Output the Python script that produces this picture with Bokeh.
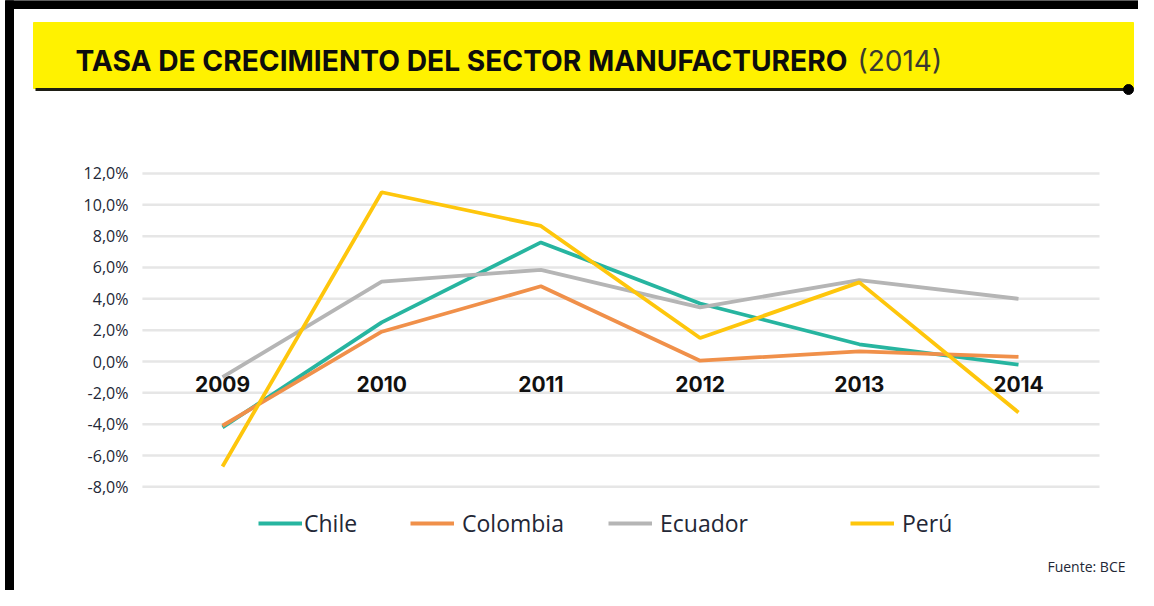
from bokeh.plotting import figure
from bokeh.models import (Range1d, FixedTicker, CustomJSTickFormatter, Legend,
                          LegendItem, LinearAxis)
from bokeh.core.properties import value
from bokeh.embed import file_html
from bokeh.resources import INLINE

# ---------------- data ----------------
years = [2009, 2010, 2011, 2012, 2013, 2014]
year_labels = ["2009", "2010", "2011", "2012", "2013", "2014"]
chile = [-4.2, 2.5, 7.6, 3.7, 1.1, -0.2]
colombia = [-4.1, 1.9, 4.8, 0.05, 0.65, 0.3]
ecuador = [-1.0, 5.1, 5.85, 3.45, 5.2, 4.0]
peru = [-6.7, 10.8, 8.65, 1.5, 5.05, -3.25]
y_ticks = [-8, -6, -4, -2, 0, 2, 4, 6, 8, 10, 12]
series_names = ["Chile", "Colombia", "Ecuador", "Perú"]
title_main = "TASA DE CRECIMIENTO DEL SECTOR MANUFACTURERO"
title_year = "(2014)"
source_note = "Fuente: BCE"

colors = ["#27b5a0", "#f0904a", "#b5b5b5", "#fec60c"]
TXT = "#232736"
FONT = "Open Sans"
W, H = 1138, 590

# plot area: 2009 -> px 222, 2014 -> px 1018 ; 0% -> px 361, 15.67 px per 1%
PX_YEAR = (1018 - 222) / 5.0
PX_PCT = 15.67
x0 = 2009 - 222 / PX_YEAR
y_top = 361 / PX_PCT
p = figure(width=W, height=H, output_backend="svg", toolbar_location=None,
           x_range=Range1d(x0, x0 + W / PX_YEAR),
           y_range=Range1d(y_top - H / PX_PCT, y_top),
           x_axis_location=None, y_axis_location=None,
           min_border=0, outline_line_color=None)
p.extra_x_ranges = {"px": Range1d(0, W)}
p.extra_y_ranges = {"px": Range1d(H, 0)}
for g in p.grid:
    g.visible = False

grid_lo, grid_hi = 2008.497, 2014.509

# frame decorations (pixel coordinates)
px = dict(x_range_name="px", y_range_name="px")
p.quad(left=[5], right=[13], top=[0], bottom=[H], color="black", **px)
p.quad(left=[5], right=[W], top=[0], bottom=[8], color="black", **px)
p.quad(left=[33], right=[1133], top=[22], bottom=[88], color="#fff200", **px)
p.segment(x0=[35], y0=[89], x1=[1128], y1=[89], line_width=3,
          line_color="#1e1e14", **px)
p.scatter(x=[1128], y=[89], size=10, color="black", **px)
p.text(x=[75], y=[60], text=[title_main], text_font=value("Inter"),
       text_font_style="bold", text_font_size="28.2px", text_baseline="middle",
       text_color="#0d0d0d", **px)
p.text(x=[857], y=[60], text=[title_year], text_font=value("Inter"),
       text_font_size="28px", text_baseline="middle", text_color="#3a3a30", **px)
p.text(x=[1125], y=[566], text=[source_note], text_font=value(FONT),
       text_font_size="14px", text_align="right", text_baseline="middle",
       text_color=TXT, **px)

# y axis at the left edge of the grid
yax = LinearAxis(fixed_location=grid_lo, ticker=FixedTicker(ticks=y_ticks))
yax.formatter = CustomJSTickFormatter(
    code="return tick.toFixed(1).replace('.', ',') + '%';")
yax.axis_line_color = None
yax.major_tick_line_color = None
yax.minor_tick_line_color = None
yax.major_tick_out = 0
yax.major_tick_in = 0
yax.major_label_standoff = 14
yax.major_label_text_font = FONT
yax.major_label_text_font_size = "16px"
yax.major_label_text_color = TXT
p.add_layout(yax, "left")

# horizontal grid lines at the y ticks
p.segment(x0=grid_lo, x1=grid_hi, y0=y_ticks, y1=y_ticks,
          line_color="#e6e6e6", line_width=2.5)

# category labels on the zero line
p.text(x=years, y=[0] * len(years), text=year_labels, text_align="center",
       text_baseline="middle", y_offset=22, text_font=value("Inter"),
       text_font_style="bold", text_font_size="21px", text_color="#111111")

renderers = []
for vals, c in zip([chile, colombia, ecuador, peru], colors):
    renderers.append(p.line(years, vals, line_width=3.8, line_color=c))

leg_x = [258, 410, 608, 850]
leg_standoff = [2, 8, 8, 8]
for name, r, lx, so in zip(series_names, renderers, leg_x, leg_standoff):
    lg = Legend(items=[LegendItem(label=name, renderers=[r])], location=(lx, H - 539),
                orientation="horizontal", padding=0, margin=0, spacing=0,
                border_line_color=None, background_fill_alpha=0,
                glyph_width=44, glyph_height=20, label_height=20,
                label_standoff=so, label_text_font=FONT,
                label_text_font_size="23px", label_text_color=TXT)
    p.add_layout(lg)

open("out.html", "w").write(file_html(p, INLINE))
